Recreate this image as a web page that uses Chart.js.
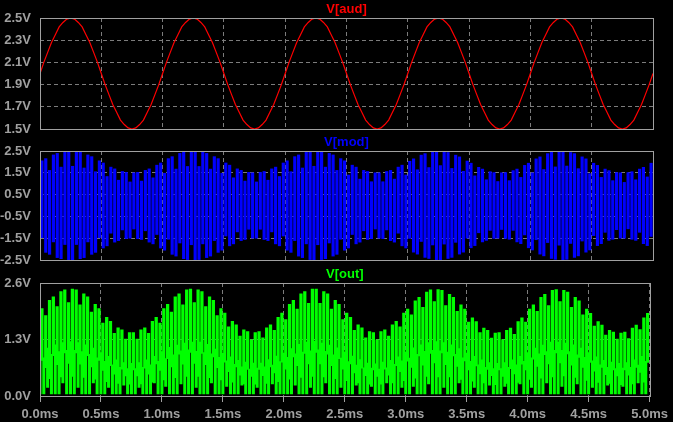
<!DOCTYPE html>
<html>
<head>
<meta charset="utf-8">
<script src="https://cdn.jsdelivr.net/npm/chart.js@4.4.1/dist/chart.umd.min.js"></script>
<style>
  html, body { margin: 0; padding: 0; background: #000; }
  #wrap { position: relative; width: 673px; height: 422px; overflow: hidden; background: #000; }
  canvas { position: absolute; left: 0; }
</style>
</head>
<body>
<div id="wrap">
  <canvas id="aud" width="673" height="146" style="top:0px"></canvas>
  <canvas id="mod" width="673" height="146" style="top:131px"></canvas>
  <canvas id="out" width="673" height="160" style="top:262px"></canvas>
</div>
<script>
// sample spacing of the traces, in ms
const stepMs = 1 / 32;

const xTicks = [0, 0.5, 1, 1.5, 2, 2.5, 3, 3.5, 4, 4.5, 5];
const audTicks = [1.5, 1.7, 1.9, 2.1, 2.3, 2.5];
const modTicks = [-2.5, -1.5, -0.5, 0.5, 1.5, 2.5];
const outTicks = [0, 1.3, 2.6];

// V[aud], one value per step, 0 .. 5ms
const audV = [
  2.00,2.10,2.19,2.28,2.35,2.42,2.46,2.49,2.50,2.49,2.46,2.42,2.35,2.28,2.19,2.10,2.00,1.90,1.81,1.72,1.65,1.58,1.54,1.51,1.50,1.51,1.54,1.58,1.65,1.72,1.81,1.90,
  2.00,2.10,2.19,2.28,2.35,2.42,2.46,2.49,2.50,2.49,2.46,2.42,2.35,2.28,2.19,2.10,2.00,1.90,1.81,1.72,1.65,1.58,1.54,1.51,1.50,1.51,1.54,1.58,1.65,1.72,1.81,1.90,
  2.00,2.10,2.19,2.28,2.35,2.42,2.46,2.49,2.50,2.49,2.46,2.42,2.35,2.28,2.19,2.10,2.00,1.90,1.81,1.72,1.65,1.58,1.54,1.51,1.50,1.51,1.54,1.58,1.65,1.72,1.81,1.90,
  2.00,2.10,2.19,2.28,2.35,2.42,2.46,2.49,2.50,2.49,2.46,2.42,2.35,2.28,2.19,2.10,2.00,1.90,1.81,1.72,1.65,1.58,1.54,1.51,1.50,1.51,1.54,1.58,1.65,1.72,1.81,1.90,
  2.00,2.10,2.19,2.28,2.35,2.42,2.46,2.49,2.50,2.49,2.46,2.42,2.35,2.28,2.19,2.10,2.00,1.90,1.81,1.72,1.65,1.58,1.54,1.51,1.50,1.51,1.54,1.58,1.65,1.72,1.81,1.90,
  2.00
];

// V[mod] carrier strokes (top / bottom of each stroke), centred between steps
const modHi = [
  2.05,2.15,1.61,2.32,2.39,1.76,2.48,2.50,1.80,2.48,2.44,1.72,2.32,2.24,1.55,2.05,1.95,1.33,1.76,1.68,1.16,1.56,1.52,1.08,1.50,1.52,1.12,1.61,1.68,1.27,1.85,1.95,
  1.48,2.15,2.24,1.67,2.39,2.44,1.79,2.50,2.50,1.79,2.44,2.39,1.67,2.24,2.15,1.48,1.95,1.85,1.27,1.68,1.61,1.12,1.52,1.50,1.08,1.52,1.56,1.16,1.68,1.76,1.33,1.95,
  2.05,1.55,2.24,2.32,1.72,2.44,2.48,1.80,2.50,2.48,1.76,2.39,2.32,1.61,2.15,2.05,1.40,1.85,1.76,1.21,1.61,1.56,1.09,1.50,1.50,1.09,1.56,1.61,1.21,1.76,1.85,1.40,
  2.03,2.14,1.64,2.31,2.38,1.74,2.47,2.50,1.83,2.48,2.43,1.70,2.31,2.23,1.57,2.04,1.94,1.36,1.75,1.67,1.18,1.55,1.51,1.10,1.50,1.51,1.14,1.60,1.67,1.29,1.84,1.94,
  1.50,2.14,2.23,1.65,2.38,2.44,1.77,2.49,2.50,1.81,2.43,2.38,1.69,2.23,2.14,1.46,1.94,1.84,1.29,1.67,1.60,1.14,1.51,1.50,1.06,1.51,1.55,1.18,1.67,1.75,1.31,1.94
];
const modLo = [
  -1.48,-2.15,-2.24,-1.67,-2.39,-2.44,-1.79,-2.50,-2.50,-1.79,-2.44,-2.39,-1.67,-2.24,-2.15,-1.48,-1.95,-1.85,-1.27,-1.68,-1.61,-1.12,-1.52,-1.50,-1.08,-1.52,-1.56,-1.16,-1.68,-1.76,-1.33,-1.95,
  -2.05,-1.55,-2.24,-2.32,-1.72,-2.44,-2.48,-1.80,-2.50,-2.48,-1.76,-2.39,-2.32,-1.61,-2.15,-2.05,-1.40,-1.85,-1.76,-1.21,-1.61,-1.56,-1.09,-1.50,-1.50,-1.09,-1.56,-1.61,-1.21,-1.76,-1.85,-1.40,
  -2.05,-2.15,-1.61,-2.32,-2.39,-1.76,-2.48,-2.50,-1.80,-2.48,-2.44,-1.72,-2.32,-2.24,-1.55,-2.05,-1.95,-1.33,-1.76,-1.68,-1.16,-1.56,-1.52,-1.08,-1.50,-1.52,-1.12,-1.61,-1.68,-1.27,-1.85,-1.95,
  -1.51,-2.14,-2.23,-1.65,-2.38,-2.43,-1.81,-2.49,-2.50,-1.77,-2.43,-2.38,-1.69,-2.23,-2.14,-1.50,-1.94,-1.84,-1.25,-1.67,-1.60,-1.14,-1.51,-1.50,-1.10,-1.51,-1.55,-1.14,-1.67,-1.75,-1.35,-1.94,
  -2.04,-1.57,-2.23,-2.31,-1.70,-2.43,-2.47,-1.82,-2.50,-2.47,-1.74,-2.38,-2.31,-1.63,-2.14,-2.04,-1.38,-1.84,-1.75,-1.23,-1.60,-1.55,-1.11,-1.50,-1.50,-1.07,-1.55,-1.60,-1.23,-1.75,-1.84,-1.42
];

// V[out] upper strokes, centred between steps
const outTop = [
  2.01,1.85,2.20,2.28,2.06,2.40,2.44,2.15,2.46,2.44,2.10,2.35,2.28,1.93,2.11,2.01,1.68,1.81,1.72,1.44,1.57,1.52,1.31,1.46,1.46,1.31,1.52,1.57,1.44,1.72,1.81,1.68,
  2.01,2.11,1.93,2.28,2.35,2.10,2.44,2.46,2.15,2.44,2.40,2.06,2.28,2.20,1.85,2.01,1.91,1.59,1.72,1.64,1.38,1.52,1.48,1.29,1.46,1.48,1.34,1.57,1.64,1.51,1.81,1.91,
  1.76,2.11,2.20,2.00,2.35,2.40,2.13,2.46,2.46,2.13,2.40,2.35,2.00,2.20,2.11,1.76,1.91,1.81,1.51,1.64,1.57,1.34,1.48,1.46,1.29,1.48,1.52,1.38,1.64,1.72,1.59,1.91,
  2.00,1.87,2.19,2.27,2.04,2.39,2.44,2.17,2.45,2.43,2.08,2.34,2.27,1.95,2.10,2.00,1.70,1.80,1.71,1.46,1.56,1.51,1.33,1.45,1.46,1.30,1.51,1.56,1.42,1.71,1.80,1.70,
  2.00,2.10,1.95,2.27,2.34,2.08,2.43,2.45,2.17,2.43,2.39,2.04,2.27,2.19,1.87,2.00,1.90,1.61,1.71,1.63,1.40,1.51,1.47,1.31,1.45,1.47,1.32,1.56,1.63,1.53,1.80,1.90
];
const outUpLo = [
  0.82,0.65,0.40,0.93,0.72,0.44,0.99,0.75,0.45,0.99,0.73,0.43,0.93,0.67,0.39,0.82,0.59,0.33,0.70,0.50,0.29,0.62,0.46,0.27,0.60,0.46,0.28,0.64,0.50,0.32,0.74,0.59,
  0.37,0.86,0.67,0.42,0.96,0.73,0.45,1.00,0.75,0.45,0.98,0.72,0.42,0.90,0.65,0.37,0.78,0.56,0.32,0.67,0.48,0.28,0.61,0.45,0.27,0.61,0.47,0.29,0.67,0.53,0.33,0.78,
  0.62,0.39,0.90,0.70,0.43,0.98,0.74,0.45,1.00,0.74,0.44,0.96,0.70,0.40,0.86,0.62,0.35,0.74,0.53,0.30,0.64,0.47,0.27,0.60,0.45,0.27,0.62,0.48,0.30,0.70,0.56,0.35,
  0.80,0.66,0.41,0.92,0.71,0.45,0.98,0.76,0.44,0.99,0.72,0.44,0.92,0.68,0.38,0.81,0.60,0.34,0.69,0.51,0.30,0.61,0.47,0.26,0.60,0.45,0.29,0.63,0.51,0.31,0.73,0.60,
  0.38,0.85,0.68,0.41,0.95,0.74,0.44,0.99,0.76,0.46,0.97,0.71,0.43,0.89,0.66,0.36,0.77,0.57,0.31,0.66,0.49,0.29,0.60,0.46,0.26,0.60,0.48,0.28,0.66,0.54,0.32,0.77
];

// V[out] lower strokes, on the steps
const outLowHi = [
  1.00,0.88,1.10,0.96,1.18,1.02,1.23,1.05,1.25,1.05,1.23,1.02,1.18,0.96,1.10,0.88,1.00,0.80,0.91,0.72,0.83,0.66,0.77,0.63,0.75,0.63,0.77,0.66,0.83,0.72,0.91,0.80,
  1.02,0.86,1.12,0.95,1.17,1.04,1.22,1.06,1.24,1.03,1.24,1.00,1.19,0.97,1.08,0.89,0.98,0.81,0.90,0.73,0.82,0.67,0.78,0.62,0.76,0.64,0.76,0.67,0.84,0.71,0.92,0.79,
  0.99,0.89,1.09,0.97,1.19,1.01,1.24,1.04,1.26,1.06,1.22,1.03,1.17,0.95,1.11,0.87,1.01,0.79,0.92,0.71,0.84,0.65,0.76,0.64,0.74,0.62,0.78,0.65,0.82,0.73,0.90,0.81,
  1.01,0.87,1.11,0.96,1.18,1.03,1.23,1.05,1.25,1.04,1.23,1.01,1.18,0.96,1.09,0.88,0.99,0.80,0.91,0.72,0.83,0.66,0.77,0.63,0.75,0.63,0.77,0.66,0.83,0.72,0.91,0.80,
  1.00,0.88,1.10,0.97,1.17,1.02,1.24,1.05,1.24,1.05,1.22,1.02,1.18,0.95,1.10,0.89,1.00,0.81,0.90,0.72,0.82,0.66,0.78,0.63,0.75,0.64,0.77,0.66,0.83,0.71,0.91,0.80
];
const outLowLo = [
  0.05,0.05,0.20,0.05,0.05,0.05,0.30,0.05,0.05,0.05,0.20,0.05,0.05,0.05,0.30,0.05,0.05,0.05,0.20,0.05,0.05,0.05,0.25,0.05,0.05,0.05,0.20,0.05,0.05,0.05,0.30,0.05,
  0.05,0.22,0.05,0.05,0.05,0.28,0.05,0.05,0.05,0.20,0.05,0.05,0.05,0.30,0.05,0.05,0.05,0.22,0.05,0.05,0.05,0.25,0.05,0.05,0.05,0.20,0.05,0.05,0.05,0.28,0.05,0.05,
  0.05,0.05,0.05,0.25,0.05,0.05,0.05,0.20,0.05,0.05,0.05,0.30,0.05,0.05,0.05,0.20,0.05,0.05,0.05,0.25,0.05,0.05,0.05,0.22,0.05,0.05,0.05,0.30,0.05,0.05,0.05,0.20,
  0.05,0.05,0.22,0.05,0.05,0.05,0.28,0.05,0.05,0.05,0.20,0.05,0.05,0.05,0.30,0.05,0.05,0.05,0.20,0.05,0.05,0.05,0.25,0.05,0.05,0.05,0.22,0.05,0.05,0.05,0.28,0.05,
  0.05,0.20,0.05,0.05,0.05,0.30,0.05,0.05,0.05,0.22,0.05,0.05,0.05,0.28,0.05,0.05,0.05,0.20,0.05,0.05,0.05,0.25,0.05,0.05,0.05,0.22,0.05,0.05,0.05,0.30,0.05,0.05
];

const labelFont = { family: '"Liberation Sans", Arial, sans-serif', size: 13, weight: 'bold' };
const labelColor = '#a0a0a0';
const gridColor = '#7c7c7c';

// frame round the plot plus the trace name above it
const paneFrame = {
  id: 'paneFrame',
  afterDraw(chart, args, opts) {
    const { ctx, chartArea: a } = chart;
    ctx.save();
    ctx.strokeStyle = labelColor;
    ctx.lineWidth = 1;
    ctx.strokeRect(Math.round(a.left) + 0.5, Math.round(a.top) + 0.5,
      Math.round(a.right - a.left), Math.round(a.bottom - a.top));
    ctx.fillStyle = opts.color;
    ctx.font = 'bold 13px "Liberation Sans", Arial, sans-serif';
    ctx.textAlign = 'center';
    ctx.textBaseline = 'middle';
    ctx.fillText(opts.text, (a.left + a.right) / 2, a.top - 9);
    ctx.restore();
  }
};

function makePane(id, cfg) {
  const showX = !!cfg.showX;
  return new Chart(document.getElementById(id), {
    data: { datasets: cfg.datasets },
    options: {
      responsive: false,
      animation: false,
      events: [],
      layout: { padding: cfg.padding },
      plugins: {
        legend: { display: false },
        tooltip: { enabled: false },
        paneFrame: { text: cfg.title, color: cfg.color }
      },
      scales: {
        x: {
          type: 'linear', min: 0, max: 5, offset: false,
          afterBuildTicks: s => { s.ticks = xTicks.map(v => ({ value: v })); },
          afterFit: s => { s.height = showX ? 26 : 0; },
          ticks: {
            display: showX, color: labelColor, font: labelFont, padding: 5,
            maxRotation: 0, autoSkip: false,
            callback: v => v.toFixed(1) + 'ms'
          },
          grid: { color: gridColor, drawTicks: showX, tickLength: 6, tickColor: labelColor, offset: false },
          border: { display: false, dash: [4, 3] }
        },
        y: {
          min: cfg.yTicks[0], max: cfg.yTicks[cfg.yTicks.length - 1],
          afterBuildTicks: s => { s.ticks = cfg.yTicks.map(v => ({ value: v })); },
          afterFit: s => { s.width = 40; },
          ticks: { color: labelColor, font: labelFont, padding: 9, callback: v => v.toFixed(1) + 'V' },
          grid: { color: gridColor, drawTicks: false },
          border: { display: false, dash: [4, 3] }
        }
      }
    },
    plugins: [paneFrame]
  });
}

makePane('aud', {
  title: 'V[aud]', color: '#ff0000', yTicks: audTicks,
  padding: { top: 18, right: 20, bottom: 17, left: 0 },
  datasets: [{
    type: 'line',
    data: audV.map((v, i) => ({ x: i * stepMs, y: v })),
    borderColor: '#ff0000', borderWidth: 1.2, pointRadius: 0, tension: 0
  }]
});

makePane('mod', {
  title: 'V[mod]', color: '#0000ff', yTicks: modTicks,
  padding: { top: 20, right: 20, bottom: 17, left: 0 },
  datasets: [{
    type: 'bar',
    data: modHi.map((hi, i) => ({ x: (i + 0.5) * stepMs, y: [modLo[i], hi] })),
    backgroundColor: '#0000ff', borderWidth: 0, barThickness: 2.5, grouped: false
  }]
});

makePane('out', {
  title: 'V[out]', color: '#00ff00', yTicks: outTicks, showX: true,
  padding: { top: 21, right: 20, bottom: 0, left: 0 },
  datasets: [{
    type: 'bar',
    data: outTop.map((hi, i) => ({ x: (i + 0.5) * stepMs, y: [outUpLo[i], hi] })),
    backgroundColor: '#00ff00', borderWidth: 0, barThickness: 2.6, grouped: false
  }, {
    type: 'bar',
    data: outLowHi.map((hi, i) => ({ x: i * stepMs, y: [outLowLo[i], hi] })),
    backgroundColor: '#00ff00', borderWidth: 0, barThickness: 2.4, grouped: false
  }]
});
</script>
</body>
</html>
